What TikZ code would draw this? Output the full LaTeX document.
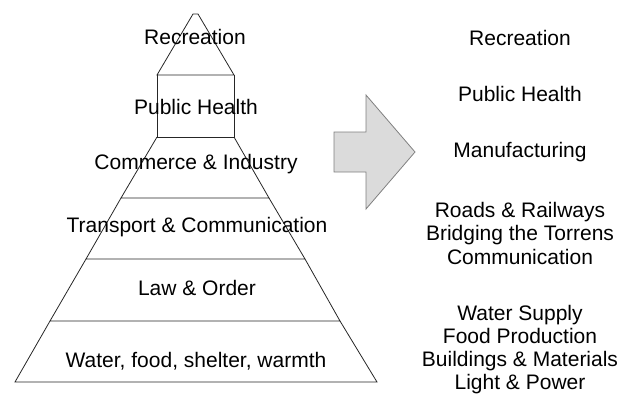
\documentclass[tikz,border=0pt]{standalone}
\usepackage{fontspec}
\setmainfont{Liberation Sans}
\begin{document}
\begin{tikzpicture}[x=1pt,y=-1pt,
  label/.style={font=\fontsize{21}{24}\selectfont, text=black, inner sep=0pt, anchor=base},
  tier/.style={draw=black!85, line width=0.8pt, line join=miter},
  bigarrow/.style={draw=black!50, fill=black!14, line width=0.8pt, line join=miter}]
\useasboundingbox (0,0) rectangle (634,394);

% pyramid outline points
\coordinate (apexL) at (193,14);
\coordinate (apexR) at (198,14);
\coordinate (aL) at (157,75);  \coordinate (aR) at (234,75);
\coordinate (bL) at (157,137); \coordinate (bR) at (234,137);
\coordinate (cL) at (121,198); \coordinate (cR) at (269,198);
\coordinate (dL) at (86,259);  \coordinate (dR) at (305,259);
\coordinate (eL) at (50,321);  \coordinate (eR) at (340,321);
\coordinate (fL) at (15,382);  \coordinate (fR) at (377,382);

% tiers
\draw[tier] (aL) -- (apexL) -- (apexR) -- (aR) -- cycle;
\draw[tier] (aL) -- (bL) -- (bR) -- (aR);
\draw[tier] (bL) -- (cL) -- (cR) -- (bR);
\draw[tier] (cL) -- (dL) -- (dR) -- (cR);
\draw[tier] (dL) -- (eL) -- (eR) -- (dR);
\draw[tier] (eL) -- (fL) -- (fR) -- (eR);

% tier labels
\node[label] (t1) at (195,44)  {Recreation};
\node[label] (t2) at (196,114) {Public Health};
\node[label] (t3) at (196,169) {Commerce \& Industry};
\node[label] (t4) at (197,232) {Transport \& Communication};
\node[label] (t5) at (197,295) {Law \& Order};
\node[label] (t6) at (196,367) {Water, food, shelter, warmth};

% block arrow
\draw[bigarrow] (334,132) -- (366,132) -- (366,95) -- (415,152)
  -- (366,209) -- (366,172) -- (334,172) -- cycle;

% outcomes
\node[label] (r1)  at (520,45)  {Recreation};
\node[label] (r2)  at (520,101) {Public Health};
\node[label] (r3)  at (520,157) {Manufacturing};
\node[label] (r4a) at (520,217) {Roads \& Railways};
\node[label] (r4b) at (520,240.5) {Bridging the Torrens};
\node[label] (r4c) at (520,264) {Communication};
\node[label] (r5a) at (520,320) {Water Supply};
\node[label] (r5b) at (520,343) {Food Production};
\node[label] (r5c) at (520,366) {Buildings \& Materials};
\node[label] (r5d) at (520,389) {Light \& Power};
\end{tikzpicture}
\end{document}
